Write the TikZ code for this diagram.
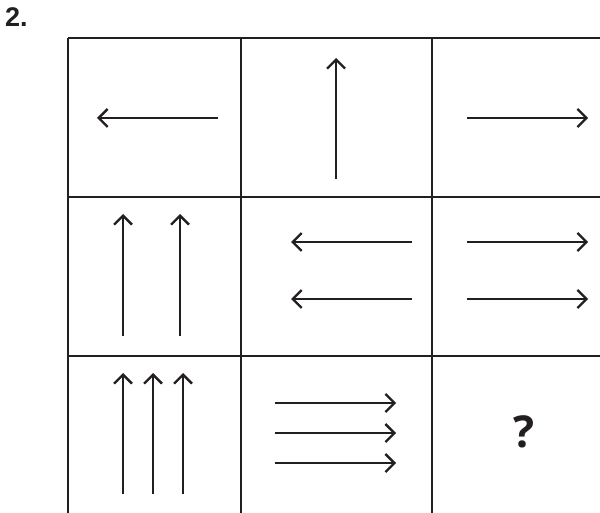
\documentclass[tikz,border=0pt]{standalone}
\usepackage{fontspec}
\setmainfont{Liberation Sans}
\newfontfamily\qfont{Open Sans}
\usetikzlibrary{arrows.meta}
\definecolor{ink}{HTML}{231F20}
\tikzset{
  gridline/.style={draw=ink, line width=2.9pt},
  arr/.style={draw=ink, line width=2.3pt, -{Straight Barb[length=9pt,width=18pt,line width=2.3pt]}},
}
\begin{document}
\begin{tikzpicture}[x=1pt,y=-1pt]
\useasboundingbox (0,0) rectangle (600,513);
% label
\node[anchor=base west, inner sep=0pt, font=\fontsize{27}{27}\selectfont\bfseries, text=ink] (num) at (5,27) {2.};
% grid
\draw[gridline] (68,38) -- (600,38);
\draw[gridline] (68,197) -- (600,197);
\draw[gridline] (68,356) -- (600,356);
\draw[gridline] (68,38) -- (68,513);
\draw[gridline] (241,38) -- (241,513);
\draw[gridline] (432,38) -- (432,513);
% row 1
\draw[arr] (218,118) -- (97,118);
\draw[arr] (336,179) -- (336,58);
\draw[arr] (467,118) -- (588,118);
% row 2
\draw[arr] (123,336) -- (123,214);
\draw[arr] (180,336) -- (180,214);
\draw[arr] (412,242) -- (291,242);
\draw[arr] (412,299) -- (291,299);
\draw[arr] (467,242) -- (588,242);
\draw[arr] (467,299) -- (588,299);
% row 3
\draw[arr] (123,494) -- (123,373);
\draw[arr] (153,494) -- (153,373);
\draw[arr] (183,494) -- (183,373);
\draw[arr] (275,403) -- (396,403);
\draw[arr] (275,433) -- (396,433);
\draw[arr] (275,463) -- (396,463);
\node[font=\qfont\bfseries\fontsize{44}{44}\selectfont, text=ink, inner sep=0pt] (q) at (524,432) {?};
\end{tikzpicture}
\end{document}
